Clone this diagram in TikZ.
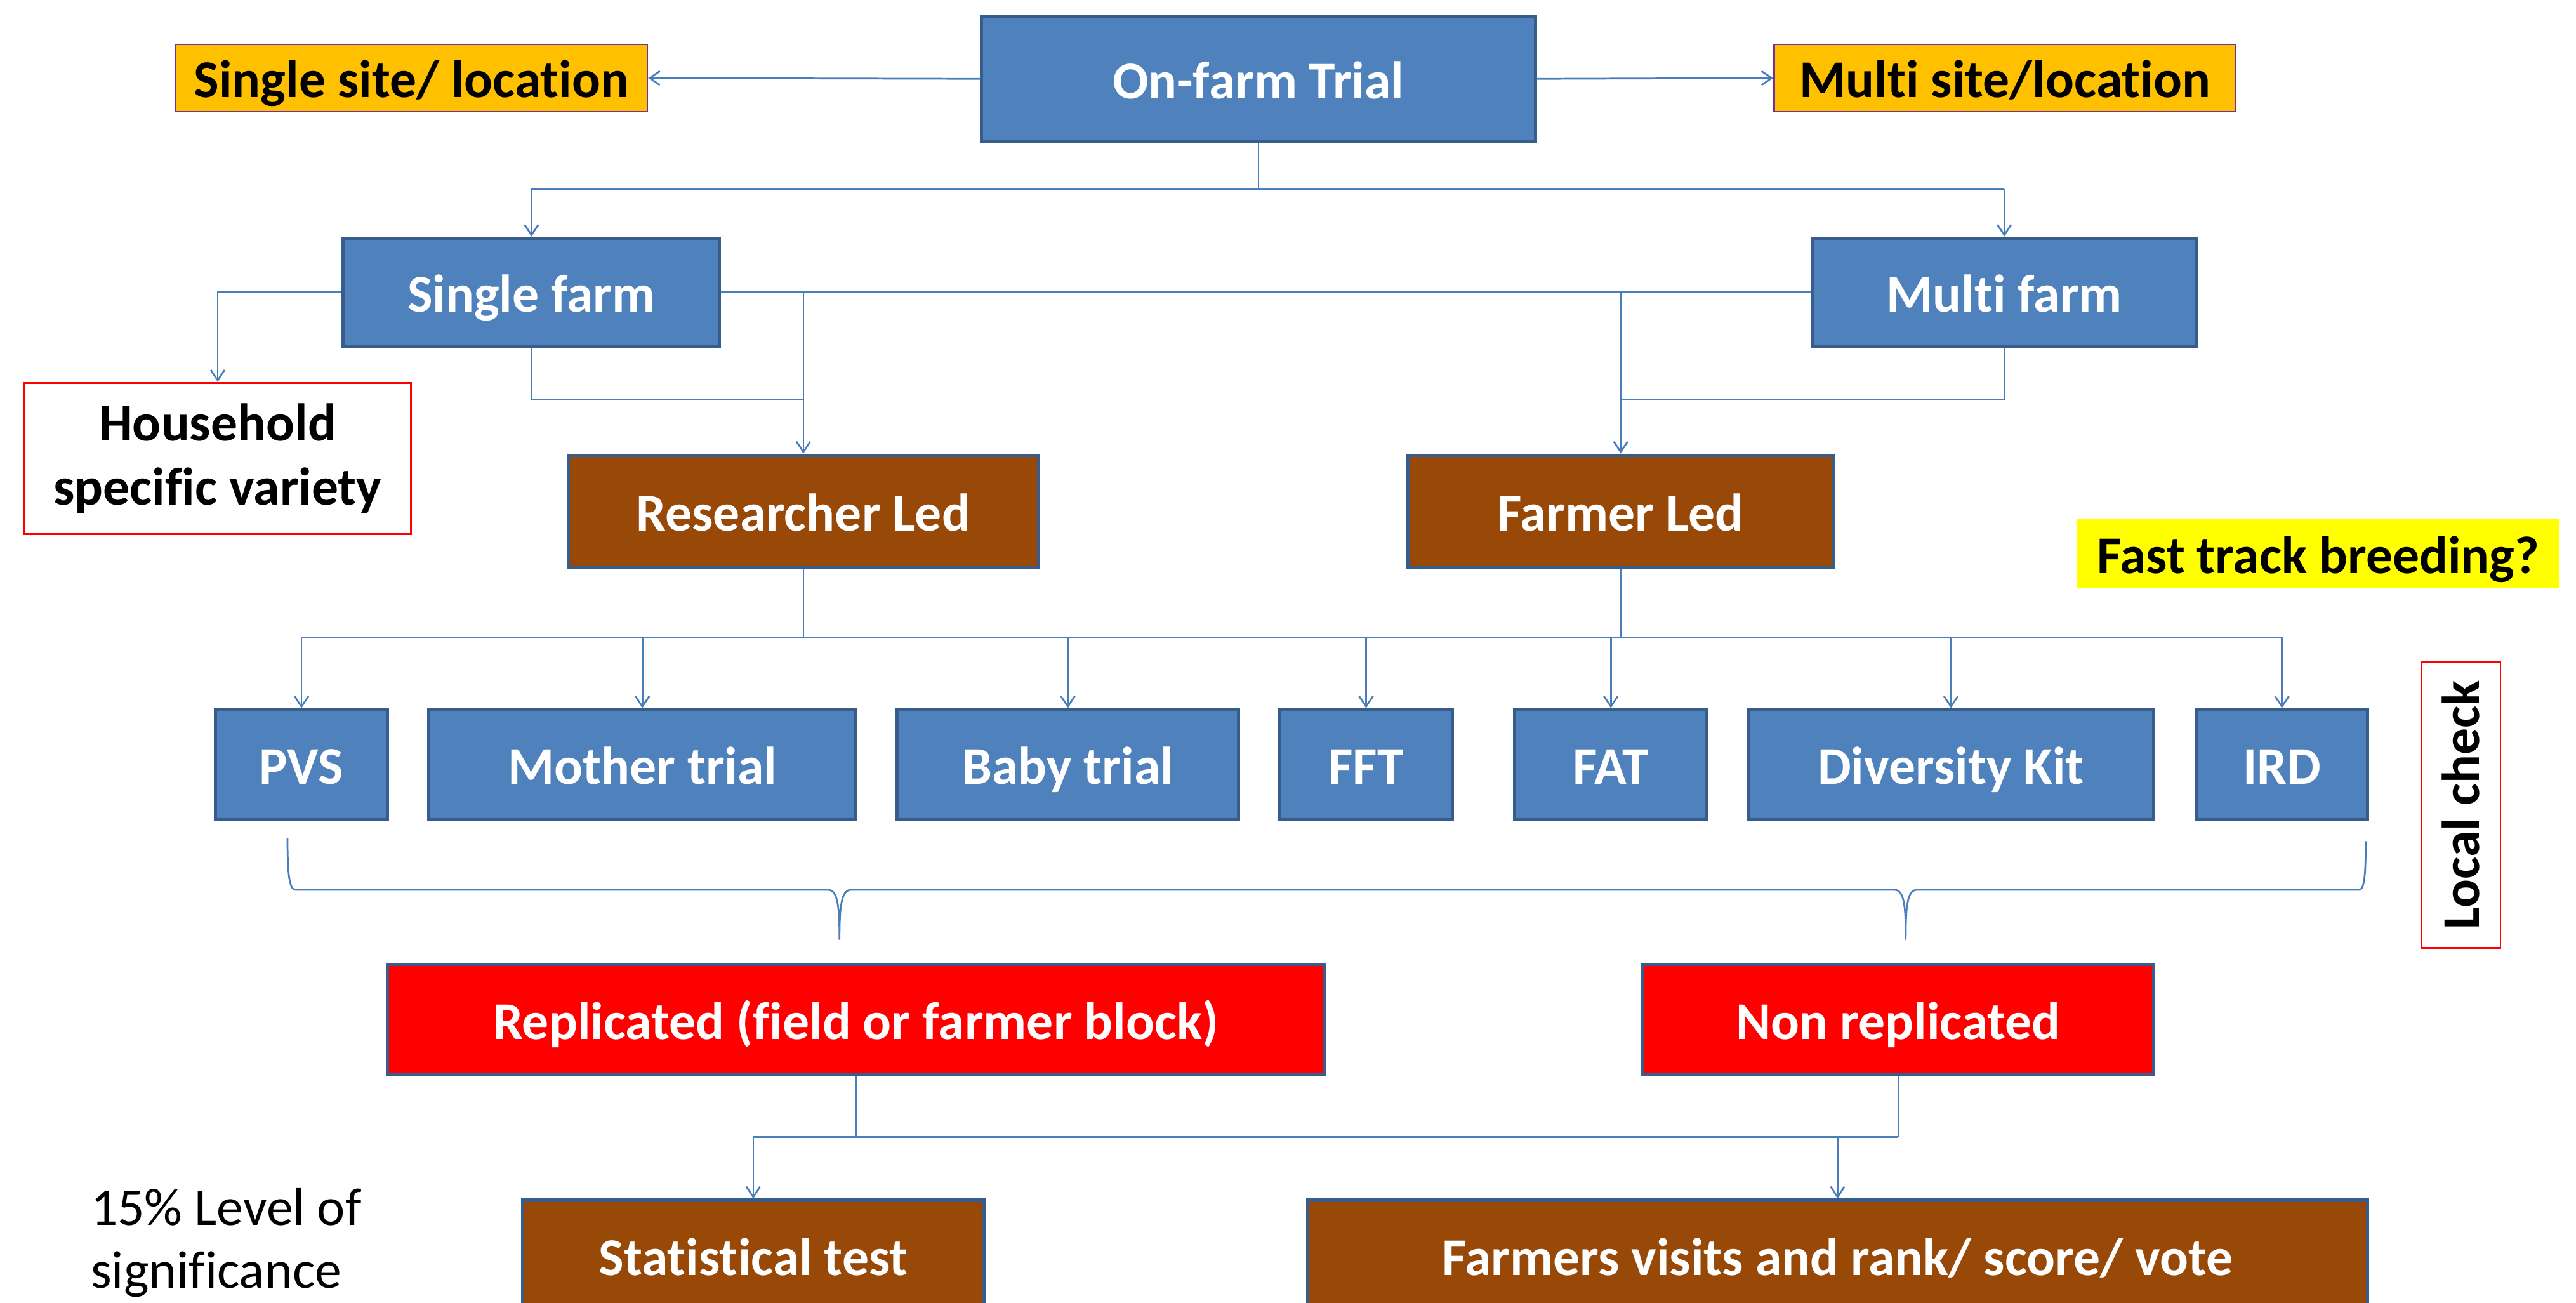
\documentclass[tikz,border=0pt]{standalone}
\usepackage{fontspec}
\setmainfont{Carlito}[Ligatures=NoCommon]
\usetikzlibrary{arrows.meta,calc}
\definecolor{boxblue}{HTML}{4F81BD}
\definecolor{boxline}{HTML}{385D8A}
\definecolor{boxbrown}{HTML}{984807}
\definecolor{siteorange}{HTML}{FFC000}
\definecolor{sitepurple}{HTML}{7030A0}
\definecolor{hiyellow}{HTML}{FFFF00}
\definecolor{linkblue}{HTML}{4A7EBB}
\newcommand{\bxfont}{\fontsize{23}{28}\selectfont\bfseries}
\tikzset{
    block/.style = {draw=boxline, line width=1.4pt, fill=boxblue, text=white,
        font=\bxfont, minimum height=1.65cm, inner sep=0pt,
        text height=21pt, text depth=4pt},
    lead/.style = {block, fill=boxbrown, minimum height=1.7cm},
    rep/.style = {block, fill=red, minimum height=1.675cm},
    site/.style = {draw=sitepurple, line width=0.6pt, fill=siteorange,
        font=\bxfont, minimum height=1.025cm, inner sep=0pt,
        text height=21pt, text depth=4pt},
    note/.style = {draw=red, line width=0.8pt, fill=white, font=\bxfont,
        align=center, inner sep=0pt},
    arrow/.style = {draw=linkblue, line width=0.75pt, -{Straight Barb[length=4.5pt,width=6pt]}},
    link/.style = {draw=linkblue, line width=0.75pt}
}
\begin{document}
\begin{tikzpicture}
        \useasboundingbox (0,0) rectangle (39.2,-19.825);
        \clip (0,0) rectangle (39.2,-19.825);
        \node [block, minimum width=8.425cm, minimum height=1.9cm] (trial) at (19.15,-1.2) {On-farm Trial};
        \node [site, minimum width=7.175cm] (ssite) at (6.2625,-1.1875) {Single site/ location};
        \node [site, minimum width=7.025cm] (msite) at (30.51,-1.1875) {Multi site/location};
        \draw[arrow] (trial.west) -- (ssite.east);
        \draw[arrow] (trial.east) -- (msite.west);
        \node [block, minimum width=5.725cm] (sfarm) at (8.0875,-4.45) {Single farm};
        \node [block, minimum width=5.85cm] (mfarm) at (30.5,-4.45) {Multi farm};
        \coordinate (topbar) at (0,-2.875);
        \draw[link] (trial.south) -- (trial.south |- topbar);
        \draw[link] (sfarm.north |- topbar) -- (mfarm.north |- topbar);
        \draw[arrow] (sfarm.north |- topbar) -- (sfarm.north);
        \draw[arrow] (mfarm.north |- topbar) -- (mfarm.north);
        \node [note, minimum width=5.875cm, minimum height=2.3cm] (house) at (3.3125,-6.975) {Household\\specific variety};
        \draw[arrow] (sfarm.west) -| (house.north);
        \node [lead, minimum width=7.15cm] (rled) at (12.225,-7.775) {Researcher Led};
        \node [lead, minimum width=6.475cm] (fled) at (24.6625,-7.775) {Farmer Led};
        \draw[link] (sfarm.east) -- (mfarm.west);
        \draw[arrow] (rled.north |- sfarm.east) -- (rled.north);
        \draw[arrow] (fled.north |- mfarm.west) -- (fled.north);
        \coordinate (midbar) at (0,-6.075);
        \draw[link] (sfarm.south) |- (rled.north |- midbar);
        \draw[link] (mfarm.south) |- (fled.north |- midbar);
        \node [fill=hiyellow, font=\bxfont, minimum width=7.325cm, minimum height=1.05cm, inner sep=0pt, text height=21pt, text depth=4pt] (fast) at (35.275,-8.425) {Fast track breeding?};
        \node [block, minimum width=2.625cm, minimum height=1.675cm] (pvs) at (4.5875,-11.6375) {PVS};
        \node [block, minimum width=6.5cm, minimum height=1.675cm] (mother) at (9.775,-11.6375) {Mother trial};
        \node [block, minimum width=5.2cm, minimum height=1.675cm] (baby) at (16.25,-11.6375) {Baby trial};
        \node [block, minimum width=2.625cm, minimum height=1.675cm] (fft) at (20.7875,-11.6375) {FFT};
        \node [block, minimum width=2.925cm, minimum height=1.675cm] (fat) at (24.5125,-11.6375) {FAT};
        \node [block, minimum width=6.175cm, minimum height=1.675cm] (kit) at (29.6875,-11.6375) {Diversity Kit};
        \node [block, minimum width=2.6cm, minimum height=1.675cm] (ird) at (34.725,-11.6375) {IRD};
        \coordinate (rowbar) at (0,-9.7);
        \draw[link] (rled.south) -- (rled.south |- rowbar);
        \draw[link] (fled.south) -- (fled.south |- rowbar);
        \draw[link] (pvs.north |- rowbar) -- (ird.north |- rowbar);
        \foreach \t in {pvs,mother,baby,fft,fat,kit,ird}
            \draw[arrow] (\t.north |- rowbar) -- (\t.north);
        \node [note, rotate=90, minimum width=4.35cm, minimum height=1.2cm] (local) at (37.45,-12.25) {Local check};
        \draw[link] (4.375,-12.75) .. controls (4.375,-13.3) and (4.4,-13.54) .. (4.5,-13.54)
            -- (12.6,-13.54) .. controls (12.75,-13.54) and (12.775,-13.8) .. (12.775,-14.3)
            .. controls (12.775,-13.8) and (12.8,-13.54) .. (12.95,-13.54)
            -- (28.83,-13.54) .. controls (28.98,-13.54) and (29,-13.8) .. (29,-14.3)
            .. controls (29,-13.8) and (29.02,-13.54) .. (29.17,-13.54)
            -- (35.9,-13.54) .. controls (35.98,-13.54) and (36,-13.3) .. (36,-12.8);
        \node [rep, minimum width=14.25cm] (repl) at (13.025,-15.5125) {Replicated (field or farmer block)};
        \node [rep, minimum width=7.775cm] (nrepl) at (28.8875,-15.5125) {Non replicated};
        \node [lead, minimum width=7.025cm] (stat) at (11.4625,-19.1125) {Statistical test};
        \node [lead, minimum width=16.125cm] (visit) at (27.9625,-19.1125) {Farmers visits and rank/ score/ vote};
        \coordinate (botbar) at (0,-17.3);
        \draw[link] (repl.south) -- (repl.south |- botbar);
        \draw[link] (nrepl.south) -- (nrepl.south |- botbar);
        \draw[link] (stat.north |- botbar) -- (nrepl.south |- botbar);
        \draw[arrow] (stat.north |- botbar) -- (stat.north);
        \draw[arrow] (visit.north |- botbar) -- (visit.north);
        \node [font=\fontsize{23}{27}\selectfont, align=left, anchor=north west, inner sep=0pt] (level) at (1.375,-18.08) {15\% Level of\\significance};
\end{tikzpicture}
\end{document}
